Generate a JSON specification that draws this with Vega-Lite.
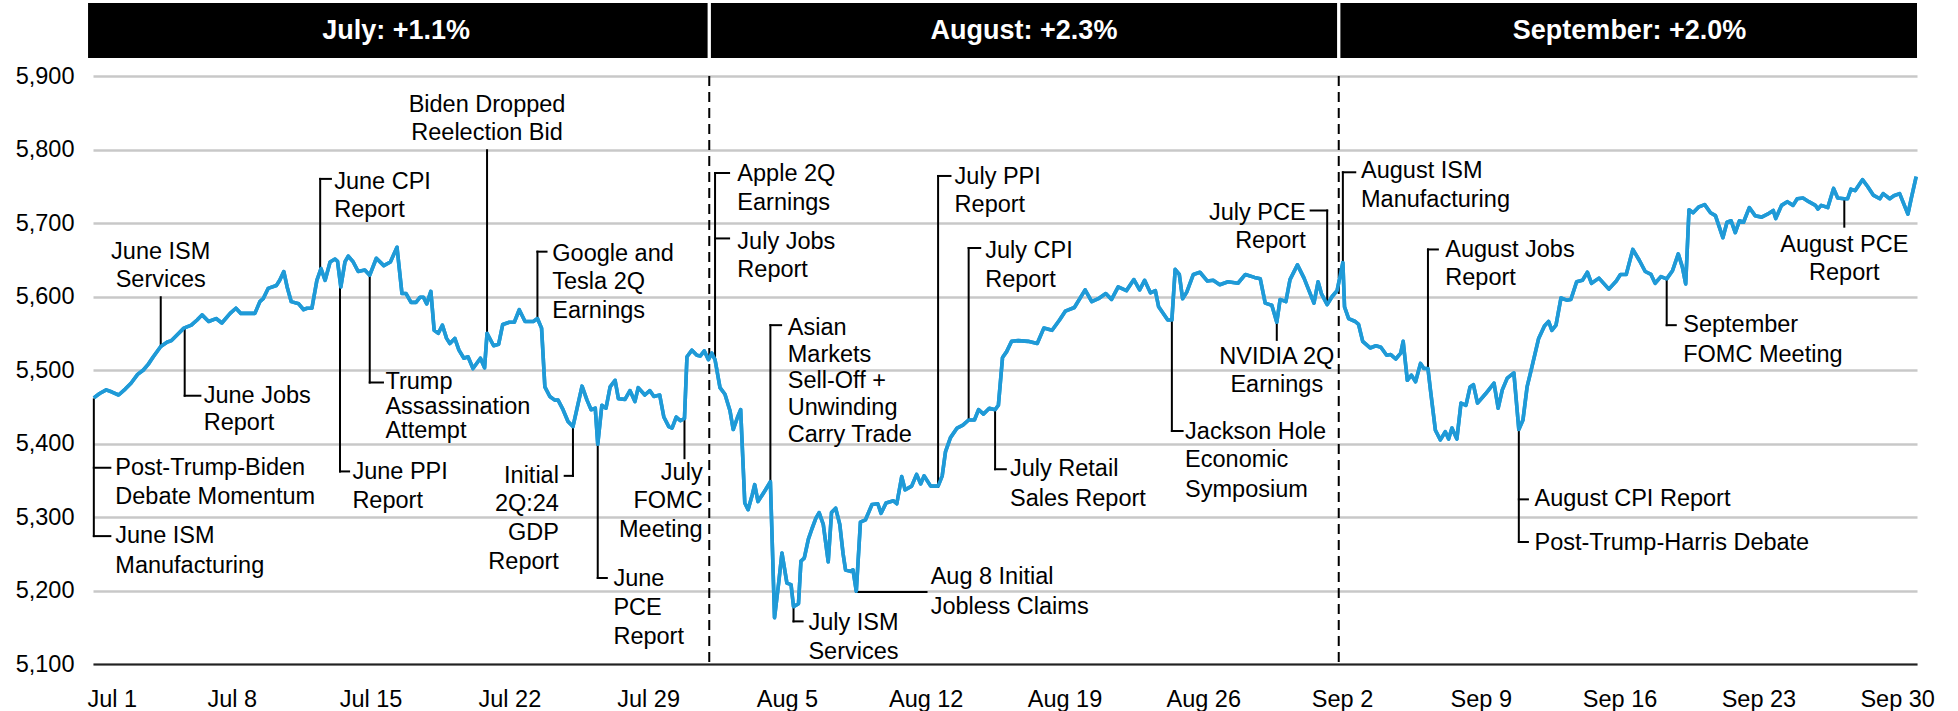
{
  "$schema": "https://vega.github.io/schema/vega-lite/v6.json",
  "autosize": {"type": "pad"},
  "padding": {"left": 15, "top": 3, "right": 5, "bottom": 0},
  "background": "white",
  "spacing": 18,
  "bounds": "flush",
  "config": {"font": "Liberation Sans", "view": {"stroke": null}},
  "datasets": {
    "sp500": [
      {"date":"2024-07-01T01:00","value":5462},{"date":"2024-07-01T08:00","value":5468},{"date":"2024-07-01T16:00","value":5473},{"date":"2024-07-01T23:00","value":5470},
      {"date":"2024-07-02T07:00","value":5466},{"date":"2024-07-02T15:00","value":5474},{"date":"2024-07-02T22:00","value":5482},{"date":"2024-07-03T06:00","value":5494},
      {"date":"2024-07-03T13:00","value":5500},{"date":"2024-07-03T19:00","value":5508},{"date":"2024-07-04T01:00","value":5518},{"date":"2024-07-04T10:00","value":5532},
      {"date":"2024-07-04T18:00","value":5538},{"date":"2024-07-04T23:00","value":5540},{"date":"2024-07-05T06:00","value":5548},{"date":"2024-07-05T14:00","value":5557},
      {"date":"2024-07-05T23:00","value":5561},{"date":"2024-07-06T06:00","value":5568},{"date":"2024-07-06T12:00","value":5575},{"date":"2024-07-06T20:00","value":5566},
      {"date":"2024-07-07T05:00","value":5570},{"date":"2024-07-07T12:00","value":5564},{"date":"2024-07-07T22:00","value":5577},{"date":"2024-07-08T05:00","value":5584},
      {"date":"2024-07-08T11:00","value":5577},{"date":"2024-07-08T20:00","value":5577},{"date":"2024-07-09T04:00","value":5577},{"date":"2024-07-09T10:00","value":5593},
      {"date":"2024-07-09T14:00","value":5597},{"date":"2024-07-09T20:00","value":5611},{"date":"2024-07-10T06:00","value":5615},{"date":"2024-07-10T10:00","value":5622},
      {"date":"2024-07-10T15:00","value":5634},{"date":"2024-07-10T19:00","value":5613},{"date":"2024-07-11T00:00","value":5593},{"date":"2024-07-11T09:00","value":5590},
      {"date":"2024-07-11T15:00","value":5582},{"date":"2024-07-11T19:00","value":5584},{"date":"2024-07-12T01:00","value":5584},{"date":"2024-07-12T07:00","value":5622},
      {"date":"2024-07-12T12:00","value":5638},{"date":"2024-07-12T17:00","value":5622},{"date":"2024-07-12T23:00","value":5647},{"date":"2024-07-13T05:00","value":5651},
      {"date":"2024-07-13T08:00","value":5648},{"date":"2024-07-13T12:00","value":5613},{"date":"2024-07-13T17:00","value":5647},{"date":"2024-07-13T21:00","value":5655},
      {"date":"2024-07-14T03:00","value":5647},{"date":"2024-07-14T09:00","value":5634},{"date":"2024-07-14T17:00","value":5636},{"date":"2024-07-14T23:00","value":5629},
      {"date":"2024-07-15T07:00","value":5652},{"date":"2024-07-15T16:00","value":5642},{"date":"2024-07-16T00:00","value":5647},{"date":"2024-07-16T08:00","value":5667},
      {"date":"2024-07-16T14:00","value":5604},{"date":"2024-07-16T19:00","value":5604},{"date":"2024-07-17T01:00","value":5592},{"date":"2024-07-17T07:00","value":5592},
      {"date":"2024-07-17T12:00","value":5599},{"date":"2024-07-17T16:00","value":5599},{"date":"2024-07-17T20:00","value":5590},{"date":"2024-07-18T01:00","value":5607},
      {"date":"2024-07-18T05:00","value":5554},{"date":"2024-07-18T10:00","value":5550},{"date":"2024-07-18T15:00","value":5561},{"date":"2024-07-18T20:00","value":5543},
      {"date":"2024-07-19T00:00","value":5536},{"date":"2024-07-19T06:00","value":5543},{"date":"2024-07-19T11:00","value":5527},{"date":"2024-07-19T17:00","value":5516},
      {"date":"2024-07-19T22:00","value":5518},{"date":"2024-07-20T04:00","value":5502},{"date":"2024-07-20T13:00","value":5516},{"date":"2024-07-20T18:00","value":5503},
      {"date":"2024-07-20T21:00","value":5550},{"date":"2024-07-21T05:00","value":5533},{"date":"2024-07-21T11:00","value":5535},{"date":"2024-07-21T16:00","value":5562},
      {"date":"2024-07-22T00:00","value":5565},{"date":"2024-07-22T06:00","value":5565},{"date":"2024-07-22T12:00","value":5582},{"date":"2024-07-22T19:00","value":5566},
      {"date":"2024-07-23T05:00","value":5566},{"date":"2024-07-23T10:00","value":5570},{"date":"2024-07-23T15:00","value":5557},{"date":"2024-07-23T19:00","value":5477},
      {"date":"2024-07-24T01:00","value":5464},{"date":"2024-07-24T07:00","value":5459},{"date":"2024-07-24T11:00","value":5459},{"date":"2024-07-24T17:00","value":5446},
      {"date":"2024-07-24T23:00","value":5430},{"date":"2024-07-25T05:00","value":5423},{"date":"2024-07-25T16:00","value":5478},{"date":"2024-07-25T22:00","value":5459},
      {"date":"2024-07-26T03:00","value":5446},{"date":"2024-07-26T08:00","value":5448},{"date":"2024-07-26T11:00","value":5399},{"date":"2024-07-26T16:00","value":5452},
      {"date":"2024-07-26T21:00","value":5448},{"date":"2024-07-27T02:00","value":5477},{"date":"2024-07-27T08:00","value":5486},{"date":"2024-07-27T12:00","value":5461},
      {"date":"2024-07-27T20:00","value":5460},{"date":"2024-07-28T02:00","value":5472},{"date":"2024-07-28T08:00","value":5457},{"date":"2024-07-28T12:00","value":5476},
      {"date":"2024-07-28T20:00","value":5466},{"date":"2024-07-29T02:00","value":5472},{"date":"2024-07-29T07:00","value":5464},{"date":"2024-07-29T14:00","value":5466},
      {"date":"2024-07-29T19:00","value":5436},{"date":"2024-07-30T01:00","value":5423},{"date":"2024-07-30T05:00","value":5421},{"date":"2024-07-30T10:00","value":5436},
      {"date":"2024-07-30T15:00","value":5431},{"date":"2024-07-30T20:00","value":5434},{"date":"2024-07-30T23:00","value":5518},{"date":"2024-07-31T05:00","value":5527},
      {"date":"2024-07-31T11:00","value":5520},{"date":"2024-07-31T15:00","value":5519},{"date":"2024-07-31T20:00","value":5526},{"date":"2024-08-01T01:00","value":5514},
      {"date":"2024-08-01T05:00","value":5523},{"date":"2024-08-01T09:00","value":5514},{"date":"2024-08-01T15:00","value":5476},
      {"date":"2024-08-01T21:00","value":5467},{"date":"2024-08-02T03:00","value":5445},{"date":"2024-08-02T07:00","value":5419},{"date":"2024-08-02T12:00","value":5435},
      {"date":"2024-08-02T16:00","value":5446},{"date":"2024-08-02T21:00","value":5319},{"date":"2024-08-03T01:00","value":5310},{"date":"2024-08-03T06:00","value":5330},
      {"date":"2024-08-03T09:00","value":5344},{"date":"2024-08-03T13:00","value":5321},{"date":"2024-08-03T21:00","value":5335},{"date":"2024-08-04T04:00","value":5348},
      {"date":"2024-08-04T09:00","value":5163},{"date":"2024-08-04T14:00","value":5210},{"date":"2024-08-04T18:00","value":5251},{"date":"2024-08-05T00:00","value":5210},
      {"date":"2024-08-05T05:00","value":5208},{"date":"2024-08-05T08:00","value":5178},{"date":"2024-08-05T14:00","value":5182},{"date":"2024-08-05T17:00","value":5240},
      {"date":"2024-08-05T21:00","value":5244},{"date":"2024-08-06T02:00","value":5270},{"date":"2024-08-06T06:00","value":5283},{"date":"2024-08-06T11:00","value":5298},
      {"date":"2024-08-06T15:00","value":5306},{"date":"2024-08-06T20:00","value":5290},{"date":"2024-08-07T02:00","value":5239},{"date":"2024-08-07T06:00","value":5306},
      {"date":"2024-08-07T11:00","value":5312},{"date":"2024-08-07T16:00","value":5290},{"date":"2024-08-07T20:00","value":5250},{"date":"2024-08-07T23:00","value":5228},
      {"date":"2024-08-08T05:00","value":5226},{"date":"2024-08-08T08:00","value":5228},{"date":"2024-08-08T12:00","value":5199},{"date":"2024-08-08T17:00","value":5293},
      {"date":"2024-08-08T23:00","value":5296},{"date":"2024-08-09T07:00","value":5317},{"date":"2024-08-09T14:00","value":5318},{"date":"2024-08-09T18:00","value":5305},
      {"date":"2024-08-10T00:00","value":5319},{"date":"2024-08-10T09:00","value":5322},{"date":"2024-08-10T13:00","value":5318},{"date":"2024-08-10T19:00","value":5355},
      {"date":"2024-08-10T23:00","value":5337},{"date":"2024-08-11T07:00","value":5342},{"date":"2024-08-11T13:00","value":5358},{"date":"2024-08-11T18:00","value":5345},
      {"date":"2024-08-11T22:00","value":5356},{"date":"2024-08-12T06:00","value":5342},{"date":"2024-08-12T15:00","value":5342},{"date":"2024-08-12T20:00","value":5356},
      {"date":"2024-08-13T00:00","value":5389},{"date":"2024-08-13T06:00","value":5408},{"date":"2024-08-13T14:00","value":5421},{"date":"2024-08-13T21:00","value":5425},
      {"date":"2024-08-14T04:00","value":5432},{"date":"2024-08-14T11:00","value":5432},{"date":"2024-08-14T16:00","value":5446},{"date":"2024-08-14T22:00","value":5440},
      {"date":"2024-08-15T05:00","value":5448},{"date":"2024-08-15T12:00","value":5446},{"date":"2024-08-15T16:00","value":5452},{"date":"2024-08-15T21:00","value":5517},
      {"date":"2024-08-16T02:00","value":5525},{"date":"2024-08-16T08:00","value":5539},{"date":"2024-08-16T16:00","value":5540},{"date":"2024-08-17T04:00","value":5539},
      {"date":"2024-08-17T15:00","value":5536},{"date":"2024-08-17T23:00","value":5557},{"date":"2024-08-18T09:00","value":5554},{"date":"2024-08-18T18:00","value":5568},
      {"date":"2024-08-19T01:00","value":5580},{"date":"2024-08-19T12:00","value":5585},{"date":"2024-08-20T01:00","value":5609},{"date":"2024-08-20T09:00","value":5593},
      {"date":"2024-08-20T17:00","value":5597},{"date":"2024-08-21T02:00","value":5604},{"date":"2024-08-21T09:00","value":5596},{"date":"2024-08-21T17:00","value":5613},
      {"date":"2024-08-22T03:00","value":5608},{"date":"2024-08-22T12:00","value":5623},{"date":"2024-08-22T19:00","value":5609},{"date":"2024-08-23T01:00","value":5622},
      {"date":"2024-08-23T08:00","value":5605},{"date":"2024-08-23T14:00","value":5608},{"date":"2024-08-23T18:00","value":5586},{"date":"2024-08-24T05:00","value":5568},
      {"date":"2024-08-24T10:00","value":5568},{"date":"2024-08-24T14:00","value":5637},{"date":"2024-08-24T19:00","value":5630},{"date":"2024-08-24T23:00","value":5597},
      {"date":"2024-08-25T04:00","value":5606},{"date":"2024-08-25T12:00","value":5630},{"date":"2024-08-25T20:00","value":5633},{"date":"2024-08-26T05:00","value":5621},
      {"date":"2024-08-26T12:00","value":5622},{"date":"2024-08-26T20:00","value":5616},{"date":"2024-08-27T06:00","value":5620},{"date":"2024-08-27T18:00","value":5618},
      {"date":"2024-08-28T03:00","value":5630},{"date":"2024-08-28T14:00","value":5626},{"date":"2024-08-28T21:00","value":5624},{"date":"2024-08-29T03:00","value":5591},
      {"date":"2024-08-29T11:00","value":5588},{"date":"2024-08-29T17:00","value":5565},{"date":"2024-08-29T21:00","value":5596},{"date":"2024-08-30T04:00","value":5593},
      {"date":"2024-08-30T09:00","value":5623},{"date":"2024-08-30T18:00","value":5643},{"date":"2024-08-31T02:00","value":5625},{"date":"2024-08-31T14:00","value":5591},
      {"date":"2024-08-31T19:00","value":5620},{"date":"2024-08-31T23:00","value":5604},{"date":"2024-09-01T06:00","value":5589},{"date":"2024-09-01T12:00","value":5600},
      {"date":"2024-09-01T18:00","value":5608},{"date":"2024-09-02T01:00","value":5646},{"date":"2024-09-02T03:00","value":5586},{"date":"2024-09-02T08:00","value":5570},
      {"date":"2024-09-02T16:00","value":5566},{"date":"2024-09-02T20:00","value":5562},{"date":"2024-09-03T01:00","value":5539},{"date":"2024-09-03T10:00","value":5530},
      {"date":"2024-09-03T17:00","value":5533},{"date":"2024-09-03T23:00","value":5531},{"date":"2024-09-04T06:00","value":5520},{"date":"2024-09-04T11:00","value":5521},
      {"date":"2024-09-04T17:00","value":5515},{"date":"2024-09-04T23:00","value":5523},{"date":"2024-09-05T02:00","value":5539},{"date":"2024-09-05T07:00","value":5486},
      {"date":"2024-09-05T12:00","value":5493},{"date":"2024-09-05T17:00","value":5484},{"date":"2024-09-05T23:00","value":5509},{"date":"2024-09-06T03:00","value":5502},
      {"date":"2024-09-06T08:00","value":5502},{"date":"2024-09-06T11:00","value":5473},{"date":"2024-09-06T17:00","value":5418},{"date":"2024-09-06T23:00","value":5405},
      {"date":"2024-09-07T05:00","value":5416},{"date":"2024-09-07T09:00","value":5406},{"date":"2024-09-07T13:00","value":5421},{"date":"2024-09-07T19:00","value":5406},
      {"date":"2024-09-08T00:00","value":5455},{"date":"2024-09-08T06:00","value":5452},{"date":"2024-09-08T11:00","value":5477},{"date":"2024-09-08T15:00","value":5480},
      {"date":"2024-09-08T20:00","value":5455},{"date":"2024-09-09T06:00","value":5468},{"date":"2024-09-09T16:00","value":5482},{"date":"2024-09-09T21:00","value":5448},
      {"date":"2024-09-10T02:00","value":5473},{"date":"2024-09-10T08:00","value":5489},{"date":"2024-09-10T16:00","value":5496},{"date":"2024-09-10T22:00","value":5419},
      {"date":"2024-09-11T03:00","value":5432},{"date":"2024-09-11T08:00","value":5477},{"date":"2024-09-11T14:00","value":5505},{"date":"2024-09-11T22:00","value":5543},
      {"date":"2024-09-12T05:00","value":5560},{"date":"2024-09-12T10:00","value":5566},{"date":"2024-09-12T14:00","value":5554},{"date":"2024-09-12T19:00","value":5561},
      {"date":"2024-09-13T01:00","value":5598},{"date":"2024-09-13T08:00","value":5595},{"date":"2024-09-13T13:00","value":5596},
      {"date":"2024-09-13T20:00","value":5620},{"date":"2024-09-14T03:00","value":5622},{"date":"2024-09-14T09:00","value":5633},{"date":"2024-09-14T14:00","value":5618},
      {"date":"2024-09-14T23:00","value":5625},{"date":"2024-09-15T11:00","value":5610},{"date":"2024-09-15T20:00","value":5621},{"date":"2024-09-16T01:00","value":5630},
      {"date":"2024-09-16T08:00","value":5630},{"date":"2024-09-16T16:00","value":5664},{"date":"2024-09-17T00:00","value":5649},{"date":"2024-09-17T07:00","value":5634},
      {"date":"2024-09-17T14:00","value":5630},{"date":"2024-09-17T19:00","value":5618},{"date":"2024-09-18T02:00","value":5627},{"date":"2024-09-18T09:00","value":5624},
      {"date":"2024-09-18T16:00","value":5635},{"date":"2024-09-18T23:00","value":5658},{"date":"2024-09-19T04:00","value":5640},{"date":"2024-09-19T08:00","value":5617},
      {"date":"2024-09-19T12:00","value":5718},{"date":"2024-09-19T17:00","value":5714},{"date":"2024-09-20T00:00","value":5722},{"date":"2024-09-20T07:00","value":5725},
      {"date":"2024-09-20T14:00","value":5714},{"date":"2024-09-20T20:00","value":5710},{"date":"2024-09-21T05:00","value":5680},{"date":"2024-09-21T10:00","value":5701},
      {"date":"2024-09-21T15:00","value":5703},{"date":"2024-09-21T20:00","value":5687},{"date":"2024-09-22T01:00","value":5703},{"date":"2024-09-22T06:00","value":5701},
      {"date":"2024-09-22T13:00","value":5721},{"date":"2024-09-22T20:00","value":5710},{"date":"2024-09-23T04:00","value":5708},{"date":"2024-09-23T11:00","value":5712},
      {"date":"2024-09-23T18:00","value":5717},{"date":"2024-09-23T21:00","value":5706},{"date":"2024-09-24T04:00","value":5724},{"date":"2024-09-24T11:00","value":5729},
      {"date":"2024-09-24T18:00","value":5724},{"date":"2024-09-24T23:00","value":5733},{"date":"2024-09-25T06:00","value":5734},{"date":"2024-09-25T13:00","value":5729},
      {"date":"2024-09-25T21:00","value":5724},{"date":"2024-09-26T00:00","value":5719},{"date":"2024-09-26T04:00","value":5724},{"date":"2024-09-26T12:00","value":5721},
      {"date":"2024-09-26T19:00","value":5747},{"date":"2024-09-27T00:00","value":5734},{"date":"2024-09-27T08:00","value":5733},{"date":"2024-09-27T12:00","value":5733},
      {"date":"2024-09-27T16:00","value":5746},{"date":"2024-09-27T21:00","value":5744},{"date":"2024-09-28T06:00","value":5759},{"date":"2024-09-28T12:00","value":5750},
      {"date":"2024-09-28T19:00","value":5738},{"date":"2024-09-29T03:00","value":5733},{"date":"2024-09-29T07:00","value":5740},{"date":"2024-09-29T15:00","value":5733},
      {"date":"2024-09-29T20:00","value":5737},{"date":"2024-09-30T03:00","value":5740},{"date":"2024-09-30T13:00","value":5712},{"date":"2024-09-30T17:00","value":5733},
      {"date":"2024-09-30T23:00","value":5763}
    ],
    "leaders": [
      {"date":"2024-07-01T01:00","value":5460,"date2":"2024-07-01T01:00","value2":5274},
      {"date":"2024-07-01T01:00","value":5367,"date2":"2024-07-01T21:00","value2":5367},
      {"date":"2024-07-01T01:00","value":5274,"date2":"2024-07-01T21:00","value2":5274},
      {"date":"2024-07-04T10:00","value":5599,"date2":"2024-07-04T10:00","value2":5532},
      {"date":"2024-07-05T15:00","value":5557,"date2":"2024-07-05T15:00","value2":5465},
      {"date":"2024-07-05T15:00","value":5465,"date2":"2024-07-06T10:00","value2":5465},
      {"date":"2024-07-12T11:00","value":5640,"date2":"2024-07-12T11:00","value2":5760},
      {"date":"2024-07-12T11:00","value":5760,"date2":"2024-07-13T00:00","value2":5760},
      {"date":"2024-07-13T11:00","value":5613,"date2":"2024-07-13T11:00","value2":5362},
      {"date":"2024-07-13T11:00","value":5362,"date2":"2024-07-13T22:00","value2":5362},
      {"date":"2024-07-14T23:00","value":5629,"date2":"2024-07-14T23:00","value2":5483},
      {"date":"2024-07-14T23:00","value":5483,"date2":"2024-07-15T15:00","value2":5483},
      {"date":"2024-07-20T21:00","value":5799,"date2":"2024-07-20T21:00","value2":5550},
      {"date":"2024-07-23T10:00","value":5570,"date2":"2024-07-23T10:00","value2":5661},
      {"date":"2024-07-23T10:00","value":5661,"date2":"2024-07-23T21:00","value2":5661},
      {"date":"2024-07-25T05:00","value":5423,"date2":"2024-07-25T05:00","value2":5356},
      {"date":"2024-07-25T05:00","value":5356,"date2":"2024-07-24T19:00","value2":5356},
      {"date":"2024-07-26T11:00","value":5399,"date2":"2024-07-26T11:00","value2":5217},
      {"date":"2024-07-26T11:00","value":5217,"date2":"2024-07-26T22:00","value2":5217},
      {"date":"2024-07-30T20:00","value":5434,"date2":"2024-07-30T20:00","value2":5380},
      {"date":"2024-08-01T09:00","value":5514,"date2":"2024-08-01T09:00","value2":5768},
      {"date":"2024-08-01T09:00","value":5768,"date2":"2024-08-02T02:00","value2":5768},
      {"date":"2024-08-01T09:00","value":5679,"date2":"2024-08-02T02:00","value2":5679},
      {"date":"2024-08-04T04:00","value":5348,"date2":"2024-08-04T04:00","value2":5561},
      {"date":"2024-08-04T04:00","value":5561,"date2":"2024-08-04T17:00","value2":5561},
      {"date":"2024-08-05T08:00","value":5178,"date2":"2024-08-05T08:00","value2":5158},
      {"date":"2024-08-05T08:00","value":5158,"date2":"2024-08-05T19:00","value2":5158},
      {"date":"2024-08-08T12:00","value":5198,"date2":"2024-08-12T01:00","value2":5198},
      {"date":"2024-08-12T15:00","value":5341,"date2":"2024-08-12T15:00","value2":5764},
      {"date":"2024-08-12T15:00","value":5764,"date2":"2024-08-13T06:00","value2":5764},
      {"date":"2024-08-14T04:00","value":5432,"date2":"2024-08-14T04:00","value2":5666},
      {"date":"2024-08-14T04:00","value":5666,"date2":"2024-08-14T18:00","value2":5666},
      {"date":"2024-08-15T12:00","value":5446,"date2":"2024-08-15T12:00","value2":5365},
      {"date":"2024-08-15T12:00","value":5365,"date2":"2024-08-16T01:00","value2":5365},
      {"date":"2024-08-24T10:00","value":5568,"date2":"2024-08-24T10:00","value2":5417},
      {"date":"2024-08-24T10:00","value":5417,"date2":"2024-08-24T23:00","value2":5417},
      {"date":"2024-08-29T17:00","value":5564,"date2":"2024-08-29T17:00","value2":5541},
      {"date":"2024-09-01T06:00","value":5590,"date2":"2024-09-01T06:00","value2":5717},
      {"date":"2024-09-01T06:00","value":5717,"date2":"2024-08-31T10:00","value2":5717},
      {"date":"2024-09-02T01:00","value":5646,"date2":"2024-09-02T01:00","value2":5769},
      {"date":"2024-09-02T01:00","value":5769,"date2":"2024-09-02T16:00","value2":5769},
      {"date":"2024-09-06T08:00","value":5502,"date2":"2024-09-06T08:00","value2":5664},
      {"date":"2024-09-06T08:00","value":5664,"date2":"2024-09-06T20:00","value2":5664},
      {"date":"2024-09-10T22:00","value":5419,"date2":"2024-09-10T22:00","value2":5266},
      {"date":"2024-09-10T22:00","value":5324,"date2":"2024-09-11T09:00","value2":5324},
      {"date":"2024-09-10T22:00","value":5266,"date2":"2024-09-11T09:00","value2":5266},
      {"date":"2024-09-18T09:00","value":5624,"date2":"2024-09-18T09:00","value2":5561},
      {"date":"2024-09-18T09:00","value":5561,"date2":"2024-09-18T20:00","value2":5561},
      {"date":"2024-09-27T08:00","value":5731,"date2":"2024-09-27T08:00","value2":5695}
    ],
    "notesLeft": [
      {"date":"2024-07-02T03:00","value":5367,"label":"Post-Trump-Biden"},
      {"date":"2024-07-02T03:00","value":5327,"label":"Debate Momentum"},
      {"date":"2024-07-02T03:00","value":5274,"label":"June ISM"},
      {"date":"2024-07-02T03:00","value":5233,"label":"Manufacturing"},
      {"date":"2024-07-06T14:00","value":5465,"label":"June Jobs"},
      {"date":"2024-07-06T14:00","value":5428,"label":"Report"},
      {"date":"2024-07-13T04:00","value":5756,"label":"June CPI"},
      {"date":"2024-07-13T04:00","value":5718,"label":"Report"},
      {"date":"2024-07-14T02:00","value":5361,"label":"June PPI"},
      {"date":"2024-07-14T02:00","value":5322,"label":"Report"},
      {"date":"2024-07-15T18:00","value":5483,"label":"Trump"},
      {"date":"2024-07-15T18:00","value":5450,"label":"Assassination"},
      {"date":"2024-07-15T18:00","value":5417,"label":"Attempt"},
      {"date":"2024-07-24T04:00","value":5658,"label":"Google and"},
      {"date":"2024-07-24T04:00","value":5620,"label":"Tesla 2Q"},
      {"date":"2024-07-24T04:00","value":5580,"label":"Earnings"},
      {"date":"2024-07-27T06:00","value":5216,"label":"June"},
      {"date":"2024-07-27T06:00","value":5176,"label":"PCE"},
      {"date":"2024-07-27T06:00","value":5137,"label":"Report"},
      {"date":"2024-08-02T12:00","value":5767,"label":"Apple 2Q"},
      {"date":"2024-08-02T12:00","value":5727,"label":"Earnings"},
      {"date":"2024-08-02T12:00","value":5674,"label":"July Jobs"},
      {"date":"2024-08-02T12:00","value":5636,"label":"Report"},
      {"date":"2024-08-05T01:00","value":5557,"label":"Asian"},
      {"date":"2024-08-05T01:00","value":5520,"label":"Markets"},
      {"date":"2024-08-05T01:00","value":5485,"label":"Sell-Off +"},
      {"date":"2024-08-05T01:00","value":5448,"label":"Unwinding"},
      {"date":"2024-08-05T01:00","value":5412,"label":"Carry Trade"},
      {"date":"2024-08-06T02:00","value":5156,"label":"July ISM"},
      {"date":"2024-08-06T02:00","value":5117,"label":"Services"},
      {"date":"2024-08-12T06:00","value":5218,"label":"Aug 8 Initial"},
      {"date":"2024-08-12T06:00","value":5178,"label":"Jobless Claims"},
      {"date":"2024-08-13T11:00","value":5763,"label":"July PPI"},
      {"date":"2024-08-13T11:00","value":5724,"label":"Report"},
      {"date":"2024-08-15T00:00","value":5662,"label":"July CPI"},
      {"date":"2024-08-15T00:00","value":5623,"label":"Report"},
      {"date":"2024-08-16T06:00","value":5365,"label":"July Retail"},
      {"date":"2024-08-16T06:00","value":5325,"label":"Sales Report"},
      {"date":"2024-08-25T02:00","value":5416,"label":"Jackson Hole"},
      {"date":"2024-08-25T02:00","value":5377,"label":"Economic"},
      {"date":"2024-08-25T02:00","value":5337,"label":"Symposium"},
      {"date":"2024-09-02T23:00","value":5771,"label":"August ISM"},
      {"date":"2024-09-02T23:00","value":5731,"label":"Manufacturing"},
      {"date":"2024-09-07T05:00","value":5663,"label":"August Jobs"},
      {"date":"2024-09-07T05:00","value":5625,"label":"Report"},
      {"date":"2024-09-11T17:00","value":5325,"label":"August CPI Report"},
      {"date":"2024-09-11T17:00","value":5264,"label":"Post-Trump-Harris Debate"},
      {"date":"2024-09-19T05:00","value":5561,"label":"September"},
      {"date":"2024-09-19T05:00","value":5520,"label":"FOMC Meeting"}
    ],
    "notesCenter": [
      {"date":"2024-07-04T10:00","value":5661,"label":"June ISM"},
      {"date":"2024-07-04T10:00","value":5622,"label":"Services"},
      {"date":"2024-07-20T21:00","value":5861,"label":"Biden Dropped"},
      {"date":"2024-07-20T21:00","value":5822,"label":"Reelection Bid"},
      {"date":"2024-08-29T17:00","value":5518,"label":"NVIDIA 2Q"},
      {"date":"2024-08-29T17:00","value":5479,"label":"Earnings"},
      {"date":"2024-09-27T08:00","value":5670,"label":"August PCE"},
      {"date":"2024-09-27T08:00","value":5632,"label":"Report"}
    ],
    "notesRight": [
      {"date":"2024-07-24T12:00","value":5356,"label":"Initial"},
      {"date":"2024-07-24T12:00","value":5318,"label":"2Q:24"},
      {"date":"2024-07-24T12:00","value":5278,"label":"GDP"},
      {"date":"2024-07-24T12:00","value":5239,"label":"Report"},
      {"date":"2024-07-31T18:00","value":5360,"label":"July"},
      {"date":"2024-07-31T18:00","value":5322,"label":"FOMC"},
      {"date":"2024-07-31T18:00","value":5282,"label":"Meeting"},
      {"date":"2024-08-31T04:00","value":5714,"label":"July PCE"},
      {"date":"2024-08-31T04:00","value":5676,"label":"Report"}
    ],
    "months": [
      {"month":"July: +1.1%","start":"2024-06-30T18:00","end":"2024-08-01T00:00","mid":"2024-07-16T07:00"},
      {"month":"August: +2.3%","start":"2024-08-01T04:00","end":"2024-09-01T18:00","mid":"2024-08-16T23:00"},
      {"month":"September: +2.0%","start":"2024-09-01T22:00","end":"2024-10-01T00:00","mid":"2024-09-16T12:00"}
    ],
    "monthStarts": [
      {"date":"2024-08-01T02:00"},
      {"date":"2024-09-01T20:00"}
    ]
  },
  "vconcat": [
    {
      "width": 1824,
      "height": 55,
      "data": {"name": "months"},
      "layer": [
        {
          "mark": {"type": "rect", "color": "black"},
          "encoding": {
            "x": {"field": "start", "type": "temporal", "title": null, "axis": null,
                  "scale": {"domain": [{"year":2024,"month":7,"date":1},{"year":2024,"month":10,"date":1}], "nice": false}},
            "x2": {"field": "end"}
          }
        },
        {
          "mark": {"type": "text", "color": "white", "fontWeight": "bold", "fontSize": 27, "align": "center", "baseline": "middle"},
          "encoding": {
            "x": {"field": "mid", "type": "temporal", "title": null, "axis": null,
                  "scale": {"domain": [{"year":2024,"month":7,"date":1},{"year":2024,"month":10,"date":1}], "nice": false}},
            "text": {"field": "month"}
          }
        }
      ]
    },
    {
      "width": 1824,
      "height": 588,
      "layer": [
        {
          "data": {"name": "sp500"},
          "mark": {"type": "line", "color": "#1f9ad7", "strokeWidth": 3.6, "strokeJoin": "round"},
          "encoding": {
            "x": {
              "field": "date", "type": "temporal", "title": null,
              "scale": {"domain": [{"year":2024,"month":7,"date":1},{"year":2024,"month":10,"date":1}], "nice": false},
              "axis": {
                "values": [
                  {"year":2024,"month":7,"date":1},{"year":2024,"month":7,"date":8},{"year":2024,"month":7,"date":15},{"year":2024,"month":7,"date":22},{"year":2024,"month":7,"date":29},
                  {"year":2024,"month":8,"date":5},{"year":2024,"month":8,"date":12},{"year":2024,"month":8,"date":19},{"year":2024,"month":8,"date":26},
                  {"year":2024,"month":9,"date":2},{"year":2024,"month":9,"date":9},{"year":2024,"month":9,"date":16},{"year":2024,"month":9,"date":23},{"year":2024,"month":9,"date":30}
                ],
                "format": "%b %-d", "grid": false, "domain": true, "domainColor": "#222222", "domainWidth": 2,
                "ticks": false, "labelFontSize": 23.5, "labelColor": "black", "labelPadding": 23,
                "labelFlush": true, "labelFlushOffset": 6, "labelOverlap": false, "title": null, "zindex": 1
              }
            },
            "y": {
              "field": "value", "type": "quantitative", "title": null,
              "scale": {"domain": [5100, 5900], "nice": false, "zero": false},
              "axis": {
                "values": [5100, 5200, 5300, 5400, 5500, 5600, 5700, 5800, 5900],
                "format": ",.0f", "grid": true, "gridColor": "#c8c8c8", "gridWidth": 2.5,
                "domain": false, "ticks": false, "labelFontSize": 23.5, "labelColor": "black",
                "labelPadding": 19, "title": null
              }
            }
          }
        },
        {
          "data": {"name": "monthStarts"},
          "mark": {"type": "rule", "color": "black", "strokeWidth": 2, "strokeDash": [10, 6]},
          "encoding": {
            "x": {"field": "date", "type": "temporal", "title": null}
          }
        },
        {
          "data": {"name": "leaders"},
          "mark": {"type": "rule", "color": "black", "strokeWidth": 2, "strokeCap": "square"},
          "encoding": {
            "x": {"field": "date", "type": "temporal", "title": null},
            "x2": {"field": "date2"},
            "y": {"field": "value", "type": "quantitative", "title": null},
            "y2": {"field": "value2"}
          }
        },
        {
          "data": {"name": "sp500"},
          "mark": {"type": "line", "color": "#1f9ad7", "strokeWidth": 3.6, "strokeJoin": "round"},
          "encoding": {
            "x": {"field": "date", "type": "temporal", "title": null},
            "y": {"field": "value", "type": "quantitative", "title": null}
          }
        },
        {
          "data": {"name": "notesLeft"},
          "mark": {"type": "text", "align": "left", "baseline": "middle", "fontSize": 23.5, "color": "black"},
          "encoding": {
            "x": {"field": "date", "type": "temporal", "title": null},
            "y": {"field": "value", "type": "quantitative", "title": null},
            "text": {"field": "label"}
          }
        },
        {
          "data": {"name": "notesCenter"},
          "mark": {"type": "text", "align": "center", "baseline": "middle", "fontSize": 23.5, "color": "black"},
          "encoding": {
            "x": {"field": "date", "type": "temporal", "title": null},
            "y": {"field": "value", "type": "quantitative", "title": null},
            "text": {"field": "label"}
          }
        },
        {
          "data": {"name": "notesRight"},
          "mark": {"type": "text", "align": "right", "baseline": "middle", "fontSize": 23.5, "color": "black"},
          "encoding": {
            "x": {"field": "date", "type": "temporal", "title": null},
            "y": {"field": "value", "type": "quantitative", "title": null},
            "text": {"field": "label"}
          }
        }
      ]
    }
  ]
}
